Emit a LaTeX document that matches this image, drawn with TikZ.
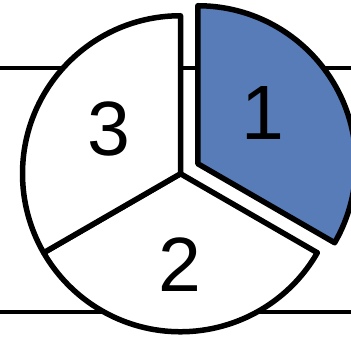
\documentclass[tikz,border=0pt]{standalone}
\usepackage{fontspec}
\setmainfont{Liberation Sans}
\usetikzlibrary{calc}
\definecolor{sliceblue}{RGB}{88,124,184}
\begin{document}
\begin{tikzpicture}[x=1pt,y=1pt,
  rule/.style={line width=4pt,black},
  slice/.style={line width=5.5pt,black,line join=round,fill=white},
  num/.style={inner sep=0pt,font=\fontsize{77}{80}\selectfont}]
\useasboundingbox (0,0) rectangle (351,337);
\clip (0,0) rectangle (351,337);
\coordinate (c) at (180.5,163.25);
\coordinate (c1) at ($(c)+(30:20)$);
\coordinate (l1a) at (0,269);
\coordinate (l1b) at (351,269);
\coordinate (l2a) at (0,25);
\coordinate (l2b) at (351,25);
\draw[rule] (l1a) -- (l1b);
\draw[rule] (l2a) -- (l2b);
\draw[slice] (c) -- ++(-30:158) arc[start angle=-30,end angle=-150,radius=158] -- cycle;
\draw[slice] (c) -- ++(90:158) arc[start angle=90,end angle=210,radius=158] -- cycle;
\draw[slice,fill=sliceblue] (c1) -- ++(90:158) arc[start angle=90,end angle=-30,radius=158] -- cycle;
\node[num] (n3) at (109,208) {3};
\node[num] (n1) at (263,224) {1};
\node[num] (n2) at (180,72) {2};
\end{tikzpicture}
\end{document}
